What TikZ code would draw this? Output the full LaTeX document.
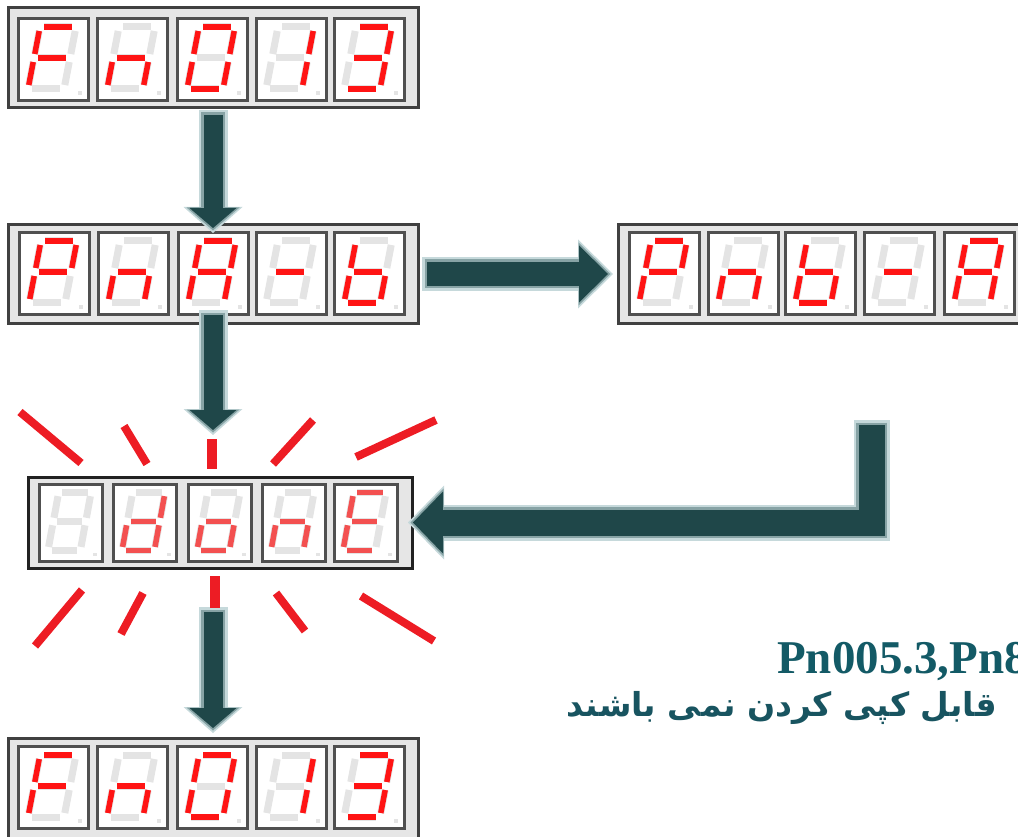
\documentclass[tikz,border=0pt]{standalone}
\usepackage{fontspec}
\setmainfont{Liberation Serif}
\newfontfamily\arabicfont[Script=Arabic]{DejaVu Sans}
\TeXXeTstate=1
\usetikzlibrary{arrows.meta,calc}

\definecolor{segred}{RGB}{255,20,20}
\definecolor{segpink}{RGB}{243,80,80}
\definecolor{seggray}{RGB}{228,228,228}
\definecolor{framefill}{RGB}{230,230,230}
\definecolor{framedraw}{RGB}{64,64,64}
\definecolor{framedark}{RGB}{34,34,34}
\definecolor{celldraw}{RGB}{80,80,80}
\definecolor{arrdark}{RGB}{31,71,73}
\definecolor{arrmid}{RGB}{135,163,165}
\definecolor{arrlight}{RGB}{198,217,219}
\definecolor{rayred}{RGB}{237,28,36}
\definecolor{titleteal}{RGB}{19,90,102}
\definecolor{persteal}{RGB}{24,84,96}

% one seven-segment cell: x, y, active segments, colour, extra scope options
\newcommand\dcell[5]{%
  \begin{scope}[shift={(#1,#2)},#5]
    \draw[cellbox] (1.5,1.5) rectangle (71.5,83.5);
    \foreach \s in {a,b,c,d,e,f,g}{\draw[segoff,seg\s];}
    \fill[seggray] (61,74) rectangle (65,78);
    \foreach \s in {#3}{\draw[segon,draw=#4,seg\s];}
  \end{scope}}

% fat arrow with halo: shaft width, head width, head length, path
\newcommand\fatarr[4]{%
  \pgfmathsetmacro\fwA{#1+10}\pgfmathsetmacro\fWA{#2+12}\pgfmathsetmacro\fLA{#3+6}%
  \pgfmathsetmacro\fwB{#1+5}\pgfmathsetmacro\fWB{#2+6}\pgfmathsetmacro\fLB{#3+3}%
  \draw[draw=arrlight,line width=\fwA pt,shorten >=-5pt,shorten <=-5pt,
    -{Triangle[width=\fWA pt,length=\fLA pt,line width=0pt]}] #4;
  \draw[draw=arrmid,line width=\fwB pt,shorten >=-2.5pt,shorten <=-2.5pt,
    -{Triangle[width=\fWB pt,length=\fLB pt,line width=0pt]}] #4;
  \draw[draw=arrdark,line width=#1pt,
    -{Triangle[width=#2pt,length=#3pt,line width=0pt]}] #4;}

\begin{document}
\begin{tikzpicture}[x=1pt,y=-1pt,
  frame/.style={draw=framedraw, fill=framefill, line width=3pt, inner sep=0pt, outer sep=0pt},
  cellbox/.style={draw=celldraw, fill=white, line width=3pt},
  segoff/.style={draw=seggray, line width=7pt},
  segon/.style={line width=5.5pt},
  ray/.style={draw=rayred, line width=8pt},
  vray/.style={draw=rayred, line width=10pt},
  segnone/.style={},
  sega/.style={insert path={(27,10)--(55,10)}},
  segg/.style={insert path={(21,41)--(49,41)}},
  segd/.style={insert path={(15,72)--(43,72)}},
  segf/.style={insert path={(22.2,14)--(17.8,37)}},
  sege/.style={insert path={(16.2,45)--(11.8,68)}},
  segb/.style={insert path={(58.2,14)--(53.8,37)}},
  segc/.style={insert path={(52.2,45)--(47.8,68)}},
  small/.style={xscale=0.9,yscale=0.94},
  title/.style={anchor=base west, inner sep=0pt, text=titleteal,
    font=\bfseries\fontsize{47}{52}\selectfont},
  persian/.style={anchor=base east, inner sep=0pt, text=persteal,
    font=\arabicfont\bfseries\fontsize{33}{38}\selectfont}
]
\useasboundingbox (0,0) rectangle (1018,837);
\fill[white] (0,0) rectangle (1018,837);
\clip (0,0) rectangle (1018,837);

% ---------- display frames ----------
\node[frame, minimum width=410pt, minimum height=100pt] (d1) at (213,58) {};
\node[frame, minimum width=410pt, minimum height=98pt] (d2) at (213,274) {};
\node[frame, minimum width=410pt, minimum height=98pt] (d3) at (823,274) {};
\node[frame, draw=framedark, minimum width=384pt, minimum height=91pt] (d4) at (220,522.5) {};
\node[frame, minimum width=410pt, minimum height=100pt] (d5) at (213,788) {};

% ---------- display 1 : Fn013 ----------
\dcell{17}{17}{a,e,f,g}{segred}{}
\dcell{96}{17}{c,e,g}{segred}{}
\dcell{176}{17}{a,b,c,d,e,f}{segred}{}
\dcell{255}{17}{b,c}{segred}{}
\dcell{333}{17}{a,b,c,d,g}{segred}{}

% ---------- display 2 : PnA-b ----------
\dcell{18}{231}{a,b,e,f,g}{segred}{}
\dcell{97}{231}{c,e,g}{segred}{}
\dcell{177}{231}{a,b,c,e,f,g}{segred}{}
\dcell{255}{231}{g}{segred}{}
\dcell{333}{231}{c,d,e,f,g}{segred}{}

% ---------- display 3 : Pnb-A ----------
\dcell{628}{231}{a,b,e,f,g}{segred}{}
\dcell{707}{231}{c,e,g}{segred}{}
\dcell{784}{231}{c,d,e,f,g}{segred}{}
\dcell{863}{231}{g}{segred}{}
\dcell{943}{231}{a,b,c,e,f,g}{segred}{}

% ---------- display 4 : 8done ----------
\dcell{38}{483}{none}{segpink}{small}
\dcell{112}{483}{b,c,d,e,g}{segpink}{small}
\dcell{187}{483}{c,d,e,g}{segpink}{small}
\dcell{261}{483}{c,e,g}{segpink}{small}
\dcell{333}{483}{a,d,e,f,g}{segpink}{small}

% ---------- display 5 : Fn013 ----------
\dcell{17}{745}{a,e,f,g}{segred}{}
\dcell{96}{745}{c,e,g}{segred}{}
\dcell{176}{745}{a,b,c,d,e,f}{segred}{}
\dcell{255}{745}{b,c}{segred}{}
\dcell{333}{745}{a,b,c,d,g}{segred}{}

% ---------- arrows ----------
\coordinate (a3s) at ($(d4.south)+(-7,44)$);
\coordinate (ltop) at (871.5,425);
\fatarr{19}{47}{20}{($(d1.south)+(0,7)$) -- ($(d2.north)+(0,3)$)}
\fatarr{19}{47}{20}{($(d2.south)+(0,-8)$) -- ($(d4.north)+(-7,-47)$)}
\fatarr{19}{47}{20}{(a3s) -- ($(d5.north)+(0,-10)$)}
\fatarr{24}{57}{29}{($(d2.east)+(9,0)$) -- ($(d3.west)+(-10,0)$)}
\fatarr{26}{62}{30}{(ltop) |- ($(d4.east)+(1,0)$)}

% ---------- blinking rays ----------
\draw[ray] (20,412) -- (81,463);
\draw[ray] (124,426) -- (147,464);
\draw[vray] (212,439) -- (212,469);
\draw[ray] (313,420) -- (273,464);
\draw[ray] (436,420) -- (356,457);
\draw[ray] (82,590) -- (35,646);
\draw[ray] (143,593) -- (121,634);
\draw[vray] (215,576) -- (215,608);
\draw[ray] (276,593) -- (305,631);
\draw[ray] (361,596) -- (434,641);

% ---------- texts ----------
\node[title] (t1) at (777,673) {Pn005.3,Pn8};
\node[persian] (t2) at (997,716) {\beginR قابل کپی کردن نمی باشند\endR};
\end{tikzpicture}
\end{document}
